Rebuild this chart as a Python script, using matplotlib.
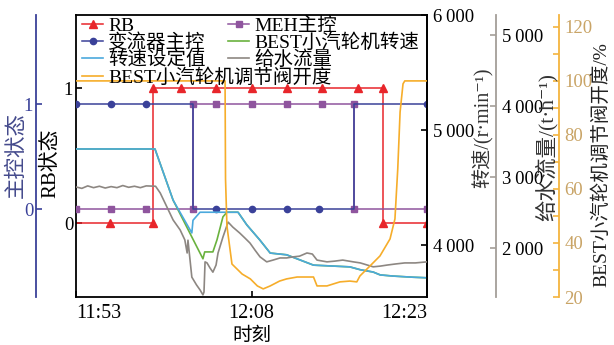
import matplotlib
matplotlib.use('Agg')
import matplotlib.pyplot as plt
from matplotlib.ticker import FixedLocator, FuncFormatter, MultipleLocator

plt.rcParams['font.family'] = ['Liberation Serif', 'Noto Sans CJK SC', 'DejaVu Serif']
plt.rcParams['axes.unicode_minus'] = False

# time axis, minutes after 11:53
time_ticks = [0, 15, 30]
time_labels = ['11:53', '12:08', '12:23']

# RB status (0/1)
rb_t = [0, 2.9, 6.6, 6.6, 9.0, 12.0, 15.0, 18.0, 21.0, 24.1, 26.2, 26.2, 30]
rb_v = [0, 0, 0, 1, 1, 1, 1, 1, 1, 1, 1, 0, 0]

# converter master control (0/1)
conv_t = [0, 3, 6, 10, 10, 12, 15, 18, 20.8, 23.8, 23.8, 30]
conv_v = [1, 1, 1, 1, 0, 0, 0, 0, 0, 0, 1, 1]

# MEH master control (0/1)
meh_t = [0, 3, 6, 10, 10, 12, 15, 18, 21, 23.8, 23.8, 30]
meh_v = [0, 0, 0, 0, 1, 1, 1, 1, 1, 1, 0, 0]

# speed set value, r/min
spset_t = [0, 6.75, 8.3, 9.9, 10.0, 10.6, 13.85, 14.6, 15.7, 16.6, 18.0, 20.3,
           23.4, 24.3, 25.4, 26.0, 27.1, 28.8, 30]
spset_v = [4835, 4835, 4390, 4105, 4215, 4285, 4285, 4175, 4045, 3930, 3915, 3825,
           3810, 3785, 3765, 3740, 3730, 3720, 3715]

# BEST turbine speed, r/min
speed_t = [0, 6.75, 8.3, 9.9, 10.85, 11.0, 11.7, 12.05, 12.56, 12.9, 13.85, 14.6,
           15.7, 16.6, 18.0, 20.3, 23.4, 24.3, 25.4, 26.0, 27.1, 28.8, 30]
speed_v = [4835, 4835, 4390, 4070, 3880, 3940, 3940, 4045, 4245, 4285, 4285, 4175,
           4045, 3930, 3915, 3825, 3810, 3785, 3765, 3740, 3730, 3720, 3715]

# feed water flow, t/h
flow_t = [0, 0.5, 1, 1.5, 2, 2.5, 3, 3.5, 4, 4.5, 5, 5.5, 6, 6.8, 7.2, 8.3, 8.9, 9.3,
          9.5, 9.57, 9.9, 10.3, 10.6, 10.85, 10.94, 11.03, 11.2, 11.45, 11.7, 11.97,
          12.14, 12.56, 13.0, 13.4, 14.0, 14.44, 14.87, 15.3, 15.73, 16.3, 16.84,
          17.44, 18.0, 18.55, 19.1, 19.74, 20.2, 20.6, 21.45, 22.1, 22.8, 23.7, 24.3,
          24.9, 25.4, 26.0, 26.6, 27.3, 28.1, 29.0, 30]
flow_v = [2860, 2840, 2875, 2850, 2870, 2845, 2865, 2850, 2880, 2855, 2870, 2850,
          2875, 2870, 2775, 2395, 2255, 2115, 1930, 2110, 1590, 1480, 1410, 1340,
          1380, 1805, 1790, 1720, 1660, 1760, 1930, 2155, 2365, 2295, 2210, 2140,
          2070, 1970, 1875, 1805, 1830, 1860, 1860, 1875, 1885, 1930, 1915, 1830,
          1805, 1815, 1830, 1805, 1790, 1760, 1735, 1745, 1760, 1775, 1790, 1790, 1805]

# BEST turbine governing valve opening, %
valve_t = [0, 12.74, 12.78, 12.9, 13.33, 14.2, 14.9, 15.5, 16.0, 16.6, 17.4, 18.0,
           18.9, 19.7, 20.3, 20.6, 21.45, 22.56, 23.4, 24.0, 24.27, 25.13, 25.98,
           26.84, 27.26, 27.5, 27.7, 27.95, 28.1, 30]
valve_v = [100, 100, 63.7, 46.3, 32.2, 28.5, 26.7, 24.1, 23.0, 24.1, 25.9, 26.7,
           27.4, 27.4, 27.4, 24.1, 24.1, 25.6, 25.9, 25.6, 27.8, 31.5, 35.2,
           41.5, 48.9, 67.4, 88.5, 98.9, 100, 100]

RED = '#e8262b'
NAVY = '#3a4199'
PURPLE = '#8f559e'
GREEN = '#6ab23e'
LBLUE = '#4ba9dd'
GRAY = '#8d8782'
ORANGE = '#f6ad2a'

W, H = 614, 345
fig = plt.figure(figsize=(W / 100, H / 100), dpi=100)
ax = fig.add_axes([76 / W, 48 / H, 351 / W, 282 / H])

def thousands(v, pos):
    s = '%d' % v
    return s[:-3] + '\u2009' + s[-3:] if len(s) > 3 else s

# RB state on the main left axis
ax.set_xlim(0, 30)
ax.set_ylim(-0.548, 1.541)
ax.set_yticks([0, 1])
ax.set_xticks(time_ticks)
ax.set_xticklabels(time_labels)
xl = ax.get_xticklabels()
xl[0].set_ha('left')
xl[-1].set_ha('right')
ax.tick_params(axis='both', direction='in', length=4, width=1.2, labelsize=13.5)
ax.tick_params(axis='x', pad=5, labelsize=14.5)
ax.tick_params(axis='y', pad=2)
ax.xaxis.set_ticks_position('bottom')
for s in ax.spines.values():
    s.set_linewidth(1.3)
ax.set_xlabel('时刻', fontsize=14, labelpad=3)
l_rb, = ax.plot(rb_t, rb_v, color=RED, lw=1.1, marker='^', ms=6,
                markevery=list(range(1, len(rb_t))), label='RB')

# master control state, extra left axis
ax_mc = ax.twinx()
ax_mc.yaxis.tick_left()
ax_mc.spines['left'].set_position(('axes', -0.114))
ax_mc.spines['left'].set_visible(True)
ax_mc.spines['left'].set_color(NAVY)
ax_mc.spines['left'].set_linewidth(1.3)
for k in ['right', 'top', 'bottom']:
    ax_mc.spines[k].set_visible(False)
ax_mc.set_ylim(-0.838, 1.848)
ax_mc.set_yticks([0, 1])
ax_mc.tick_params(axis='y', direction='in', length=4, width=1.2, colors=NAVY,
                  labelsize=13.5, pad=2)
l_meh, = ax_mc.plot(meh_t, meh_v, color=PURPLE, lw=1.1, marker='s', ms=5, label='MEH主控')
l_conv, = ax_mc.plot(conv_t, conv_v, color=NAVY, lw=1.1, marker='o', ms=4.5,
                     markevery=[0, 1, 2, 5, 6, 7, 8, 11], label='变流器主控')

# speed axis on the main right spine
ax_sp = ax.twinx()
for k in ['left', 'top', 'bottom']:
    ax_sp.spines[k].set_visible(False)
ax_sp.spines['right'].set_linewidth(1.3)
ax_sp.set_ylim(3548, 6000)
ax_sp.yaxis.set_major_locator(FixedLocator([4000, 5000, 6000]))
ax_sp.yaxis.set_major_formatter(FuncFormatter(thousands))
ax_sp.tick_params(axis='y', direction='in', length=4, width=1.2, labelsize=13.5, pad=4)
l_sp, = ax_sp.plot(speed_t, speed_v, color=GREEN, lw=1.2, label='BEST小汽轮机转速')
l_set, = ax_sp.plot(spset_t, spset_v, color=LBLUE, lw=1.2, label='转速设定值')

# feed water flow axis
ax_fl = ax.twinx()
for k in ['left', 'top', 'bottom']:
    ax_fl.spines[k].set_visible(False)
ax_fl.spines['right'].set_position(('axes', 1.197))
ax_fl.spines['right'].set_color('#a49e98')
ax_fl.spines['right'].set_linewidth(1.3)
ax_fl.set_ylim(1310, 5282)
ax_fl.yaxis.set_major_locator(FixedLocator([2000, 3000, 4000, 5000]))
ax_fl.yaxis.set_major_formatter(FuncFormatter(thousands))
ax_fl.tick_params(axis='y', direction='in', length=4, width=1.2, color='#a49e98',
                  labelsize=13.5, pad=4)
l_fl, = ax_fl.plot(flow_t, flow_v, color=GRAY, lw=1.2, label='给水流量')

# valve opening axis
ax_va = ax.twinx()
for k in ['left', 'top', 'bottom']:
    ax_va.spines[k].set_visible(False)
ax_va.spines['right'].set_position(('axes', 1.376))
ax_va.spines['right'].set_color('#f4b43e')
ax_va.spines['right'].set_linewidth(1.3)
ax_va.set_ylim(20, 124.4)
ax_va.yaxis.set_major_locator(MultipleLocator(20))
ax_va.yaxis.set_minor_locator(MultipleLocator(10))
ax_va.tick_params(axis='y', which='both', direction='in', length=4, width=1.2,
                  color='#f4b43e', labelcolor='#c9a466', labelsize=13.5, pad=4)
l_va, = ax_va.plot(valve_t, valve_v, color=ORANGE, lw=1.2, label='BEST小汽轮机调节阀开度')

# legend in two separate blocks
leg_kw = dict(frameon=False, fontsize=14, handlelength=1.1, handletextpad=0.25,
              labelspacing=-0.06, borderpad=0, borderaxespad=0, loc='upper left')
leg1 = ax_va.legend([l_rb, l_conv, l_set, l_va],
                    [h.get_label() for h in [l_rb, l_conv, l_set, l_va]],
                    bbox_to_anchor=(0.017, 0.993), **leg_kw)
ax_va.add_artist(leg1)
ax_va.legend([l_meh, l_sp, l_fl], [h.get_label() for h in [l_meh, l_sp, l_fl]],
             bbox_to_anchor=(0.433, 0.993), **leg_kw)

# axis titles
def ytitle(x, y, text, color='black', size=14):
    fig.text(x / W, 1 - y / H, text, rotation=90, ha='center', va='center',
             color=color, fontsize=size)

ytitle(17, 155, '主控状态', color='#444a8c', size=15.5)
ytitle(51, 163, 'RB状态', size=15)
ytitle(483, 128, '转速/(r·min⁻¹)', color='#333333', size=14.5)
ytitle(546, 147, '给水流量/(t·h⁻¹)', color='#333333', size=15.5)
ytitle(601, 165, 'BEST小汽轮机调节阀开度/%', color='#222222', size=14)

fig.savefig('out.png', dpi=100)
